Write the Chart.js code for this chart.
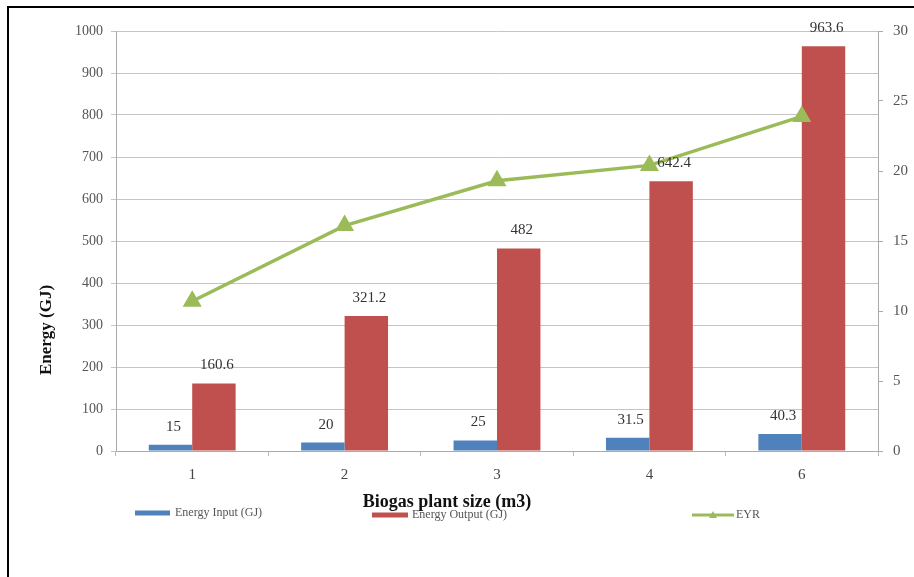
<!DOCTYPE html>
<html><head><meta charset="utf-8">
<script src="https://cdn.jsdelivr.net/npm/chart.js@4/dist/chart.umd.min.js"></script>
<style>
html,body{margin:0;padding:0;background:#fff;}
#wrap{position:relative;width:914px;height:577px;overflow:hidden;background:#fff;}
#frame{position:absolute;left:7px;top:6px;width:920px;height:600px;border-left:2px solid #000;border-top:2px solid #000;box-sizing:border-box;pointer-events:none;}
canvas{position:absolute;left:0;top:0;}
</style></head>
<body>
<div id="wrap"><canvas id="c" width="914" height="577"></canvas><div id="frame"></div></div>
<script>
const categories = ['1', '2', '3', '4', '6'];
const energyInput = [15, 20, 25, 31.5, 40.3];
const energyOutput = [160.6, 321.2, 482, 642.4, 963.6];
const eyr = [10.7, 16.1, 19.3, 20.4, 23.9];
const seriesNames = ['Energy Input (GJ)', 'Energy Output (GJ)', 'EYR'];
const xTitle = 'Biogas plant size (m3)';
const yTitle = 'Energy (GJ)';

const SERIF = '"Liberation Serif", "Times New Roman", serif';
const BLUE = '#4f81bd', RED = '#c0504d', GREEN = '#9bbb59';

const overlay = {
  id: 'overlay',
  afterDatasetsDraw(chart) {
    const ctx = chart.ctx;
    ctx.save();
    ctx.font = '15px ' + SERIF;
    ctx.fillStyle = '#333';
    ctx.textAlign = 'center';
    ctx.textBaseline = 'middle';
    [0, 1].forEach(di => {
      const meta = chart.getDatasetMeta(di);
      meta.data.forEach((bar, i) => {
        const v = chart.data.datasets[di].data[i];
        ctx.fillText(String(v), bar.x + 3, bar.y - 18);
      });
    });
    ctx.fillStyle = '#111';
    ctx.font = 'bold 18px ' + SERIF;
    ctx.fillText(xTitle, 447, 502);
    ctx.save();
    ctx.translate(47, 330);
    ctx.rotate(-Math.PI / 2);
    ctx.font = 'bold 17px ' + SERIF;
    ctx.fillText(yTitle, 0, 0);
    ctx.restore();
    const items = [
      {x1: 135, x2: 170, y: 513, color: BLUE, w: 5, tri: false, tx: 175, name: seriesNames[0]},
      {x1: 372, x2: 408, y: 515, color: RED, w: 5, tri: false, tx: 412, name: seriesNames[1]},
      {x1: 692, x2: 734, y: 515, color: GREEN, w: 3, tri: true, tx: 736, name: seriesNames[2]}
    ];
    ctx.textAlign = 'left';
    ctx.font = '12px ' + SERIF;
    items.forEach(it => {
      ctx.strokeStyle = it.color;
      ctx.lineWidth = it.w;
      ctx.beginPath();
      ctx.moveTo(it.x1, it.y);
      ctx.lineTo(it.x2, it.y);
      ctx.stroke();
      if (it.tri) {
        const cx = (it.x1 + it.x2) / 2;
        ctx.fillStyle = it.color;
        ctx.beginPath();
        ctx.moveTo(cx, it.y - 4);
        ctx.lineTo(cx + 4, it.y + 3);
        ctx.lineTo(cx - 4, it.y + 3);
        ctx.closePath();
        ctx.fill();
      }
      ctx.fillStyle = '#555';
      ctx.fillText(it.name, it.tx, it.y);
    });
    ctx.restore();
  }
};

new Chart(document.getElementById('c'), {
  type: 'bar',
  data: {
    labels: categories,
    datasets: [
      {label: seriesNames[0], data: energyInput, backgroundColor: BLUE, yAxisID: 'y', order: 2,
       categoryPercentage: 0.57, barPercentage: 1.0},
      {label: seriesNames[1], data: energyOutput, backgroundColor: RED, yAxisID: 'y', order: 2,
       categoryPercentage: 0.57, barPercentage: 1.0},
      {label: seriesNames[2], data: eyr, type: 'line', yAxisID: 'y1', order: 1,
       borderColor: GREEN, backgroundColor: GREEN, borderWidth: 3.5,
       pointStyle: 'triangle', pointRadius: 7.5, pointBackgroundColor: GREEN, pointBorderColor: GREEN,
       tension: 0}
    ]
  },
  options: {
    responsive: false,
    animation: false,
    devicePixelRatio: 1,
    layout: {padding: {left: 8, right: 0, top: 31, bottom: 0}},
    plugins: {legend: {display: false}, tooltip: {enabled: false}},
    scales: {
      x: {
        grid: {drawOnChartArea: false, color: '#bbb', tickLength: 5, offset: true},
        border: {color: '#aaa'},
        ticks: {font: {family: SERIF, size: 15}, color: '#444', padding: 10},
        afterFit(s) { s.height = 126; }
      },
      y: {
        position: 'left', min: 0, max: 1000,
        ticks: {stepSize: 100, font: {family: SERIF, size: 14}, color: '#555', padding: 8,
                callback: v => String(v)},
        grid: {color: '#c4c4c4', tickLength: 5},
        border: {color: '#aaa'},
        afterFit(s) { s.width = 108; }
      },
      y1: {
        position: 'right', min: 0, max: 30,
        ticks: {stepSize: 5, font: {family: SERIF, size: 15}, color: '#555', padding: 10,
                callback: v => String(v)},
        grid: {drawOnChartArea: false, color: '#aaa', tickLength: 5},
        border: {color: '#aaa'},
        afterFit(s) { s.width = 36; }
      }
    }
  },
  plugins: [overlay]
});
</script>
</body></html>
